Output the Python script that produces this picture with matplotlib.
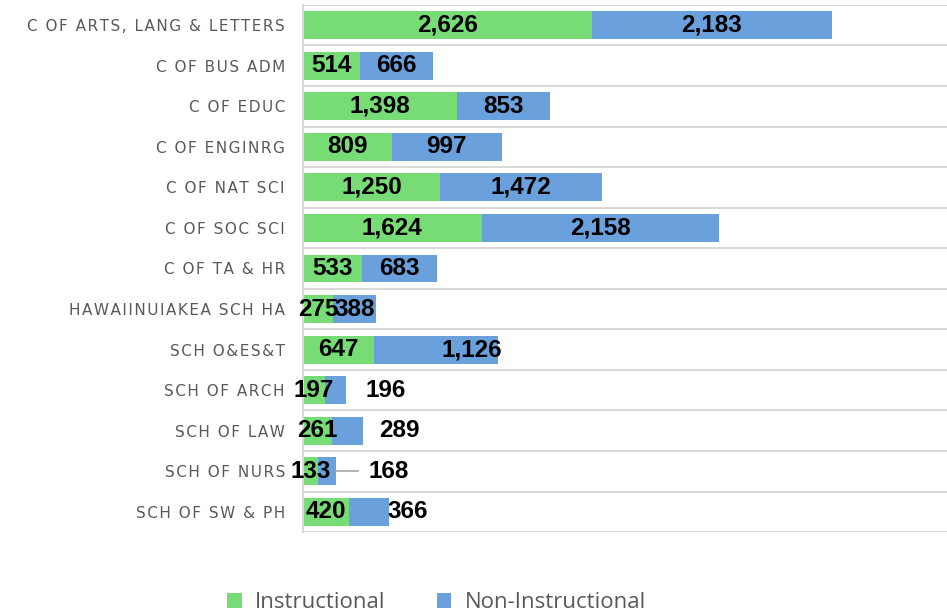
import matplotlib
matplotlib.use("Agg")
import matplotlib.pyplot as plt
from matplotlib import font_manager
import numpy as np

categories = [
    "C OF ARTS, LANG & LETTERS", "C OF BUS ADM", "C OF EDUC", "C OF ENGINRG",
    "C OF NAT SCI", "C OF SOC SCI", "C OF TA & HR", "HAWAIINUIAKEA SCH HA",
    "SCH O&ES&T", "SCH OF ARCH", "SCH OF LAW", "SCH OF NURS", "SCH OF SW & PH",
]
instructional = [2626, 514, 1398, 809, 1250, 1624, 533, 275, 647, 197, 261, 133, 420]
non_instructional = [2183, 666, 853, 997, 1472, 2158, 683, 388, 1126, 196, 289, 168, 366]

# pixel nudges for labels that Excel pushed out of the bar
non_inst_label_dx = [0, 0, 0, 0, 0, 0, 0, 0, 36, 50, 52, 62, 38]

GREEN = "#78DC76"
BLUE = "#6AA0DC"


def spaced(s):
    return "\u200a".join(s)


val_font = font_manager.FontProperties(family="Liberation Sans", weight="bold", size=17.5)

fig = plt.figure(figsize=(9.47, 6.13), dpi=100)
ax = fig.add_axes([0.32, 0.132, 0.68, 0.860])

y = np.arange(len(categories))
inst = np.array(instructional)
non = np.array(non_instructional)
ax.barh(y, inst, height=0.69, color=GREEN, label="Instructional", zorder=2)
ax.barh(y, non, left=inst, height=0.69, color=BLUE, label="Non-Instructional", zorder=2)

lab_kw = dict(ha="center", va="center", fontproperties=val_font, color="black", zorder=4)
px = 72 / fig.dpi
for i in range(len(categories)):
    ax.annotate(f"{inst[i]:,}", (inst[i] / 2, y[i]), **lab_kw)
    ax.annotate(f"{non[i]:,}", (inst[i] + non[i] / 2, y[i]),
                xytext=(non_inst_label_dx[i] * px, 0), textcoords="offset points", **lab_kw)
# leader line for the nursing label
i = categories.index("SCH OF NURS")
end = inst[i] + non[i]
ax.plot([end, end + 195], [y[i], y[i]], color="#A6A6A6", lw=1.2, zorder=3)

ax.set_xlim(0, 5860)
ax.set_ylim(len(categories) - 0.5, -0.5)
ax.set_xticks([])
ax.set_yticks(y)
ax.set_yticklabels([spaced(c) for c in categories], fontsize=11, color="#595959",
                   family="DejaVu Sans")
ax.tick_params(axis="y", length=0, pad=13)
for b in np.arange(-0.5, len(categories), 1.0):
    ax.axhline(b, color="#D9D9D9", lw=1.5, zorder=1)
for s in ["top", "right", "bottom"]:
    ax.spines[s].set_visible(False)
ax.spines["left"].set_color("#D9D9D9")
ax.spines["left"].set_linewidth(1.5)

handles, labels = ax.get_legend_handles_labels()
fig.legend(handles, labels, loc="center", bbox_to_anchor=(0.461, 0.017), ncol=2,
           frameon=False, labelcolor="#595959", handlelength=0.65,
           handleheight=0.65, handletextpad=0.6, columnspacing=2.3,
           prop={"family": "Open Sans", "size": 16})

fig.savefig("out.png", dpi=100)
